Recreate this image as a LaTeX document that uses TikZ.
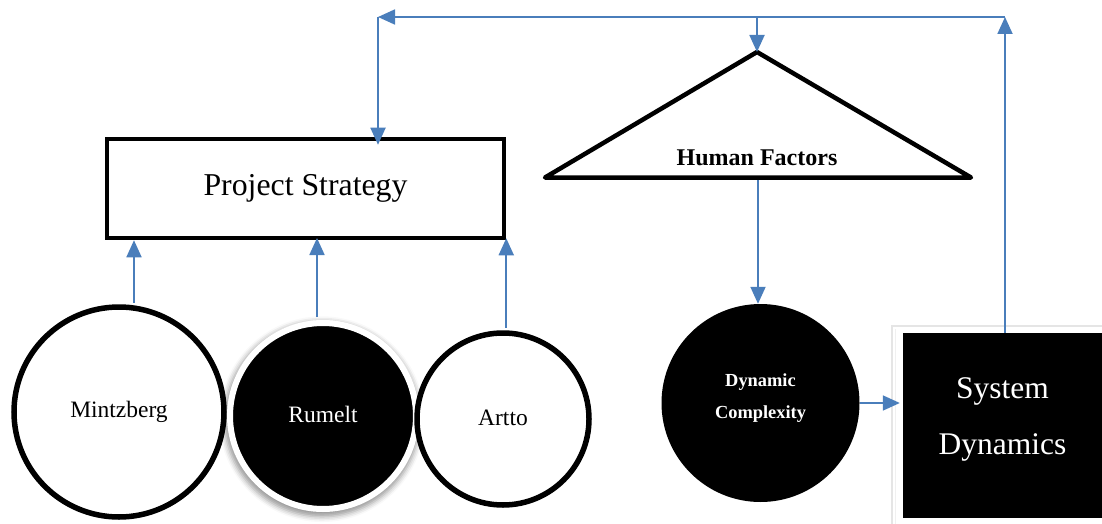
\documentclass[tikz,border=0pt]{standalone}
\usepackage{fontspec}
\setmainfont{Liberation Serif}
\usetikzlibrary{arrows.meta,calc,shadows.blur}
\definecolor{linkblue}{RGB}{74,126,187}
\begin{document}
\begin{tikzpicture}[x=1pt,y=-1pt,
  conn/.style={draw=linkblue,line width=1.8pt,-{Triangle[length=17pt,width=15pt]}},
  whitedisc/.style={circle,draw=black,line width=5.5pt,fill=white,inner sep=0pt,
    font=\fontsize{23.5}{28}\selectfont},
  blackdisc/.style={circle,draw=white,line width=6pt,fill=black,inner sep=0pt,text=white,
    font=\fontsize{23.5}{28}\selectfont,
    blur shadow={shadow xshift=-1pt,shadow yshift=-3pt,shadow blur radius=5pt,
      shadow opacity=40,shadow scale=1.05}},
  psbox/.style={rectangle,draw=black,line width=4.5pt,fill=white,inner sep=0pt,
    minimum width=397pt,minimum height=99pt,font=\fontsize{31.8}{38}\selectfont},
  dcdisc/.style={circle,fill=black,inner sep=0pt,minimum size=198pt},
  dctext/.style={text=white,align=center,font=\fontsize{18.4}{32}\selectfont\bfseries},
  sdbox/.style={rectangle,fill=black,inner sep=0pt,minimum width=199pt,minimum height=185pt},
  sdtext/.style={text=white,align=center,font=\fontsize{31.5}{56}\selectfont},
  hftext/.style={font=\fontsize{24}{28}\selectfont\bfseries}
]
\useasboundingbox (0,0) rectangle (1102,524);

% strategy box
\node[psbox] (ps) at (305.5,188.5) {Project Strategy};

% the three schools of strategy
\node[blackdisc,minimum size=186pt] (rm) at (323,416) {\raisebox{3pt}{Rumelt}};
\node[whitedisc,minimum size=210pt] (mz) at (119,412) {\raisebox{3pt}{Mintzberg}};
\node[whitedisc,minimum size=172pt] (at) at (503,419) {\raisebox{3pt}{Artto}};

% human factors triangle
\coordinate (hfA) at (757,52);
\coordinate (hfL) at (545,177.5);
\coordinate (hfR) at (971,177.5);
\coordinate (hfB) at (758,180);
\draw[line width=4.5pt,line join=round,fill=white] (hfA) -- (hfR) -- (hfL) -- cycle;
\node[hftext] (hf) at (757,158) {Human Factors};

% dynamic complexity
\node[dcdisc] (dc) at (760.5,403) {};
\node[dctext] (dclabel) at ([yshift=5pt]dc.center) {Dynamic\\Complexity};

% system dynamics block with its white frame
\draw[draw=gray!20,line width=1.5pt,fill=white] (892,326) rectangle (1110,532);
\draw[draw=gray!12,line width=1pt] (895.5,329) -- (895.5,532);
\node[sdbox] (sd) at (1002.5,425.5) {};
\node[sdtext] (sdlabel) at ([yshift=6.5pt]sd.center) {System\\Dynamics};

% feedback loop along the top
\coordinate (c1) at (1005,17);
\coordinate (c2) at (378,17);
\coordinate (c3) at (757,17);

% connectors
\draw[conn,shorten <=2.5pt] (mz.82) -- (mz.82 |- ps.south);
\draw[conn,shorten <=3pt] (rm.north -| 317,0) -- (317,238);
\draw[conn,shorten <=2.5pt,shorten >=-2pt] (at.north -| ps.south east) -- (ps.south east);
\draw[conn] (hfB) -- (dc.north -| hfB);
\draw[conn,shorten >=3pt] (dc.east) -- (dc.east -| sd.west);
\draw[conn] (sd.north -| c1) -- (c1);
\draw[conn] (c1) -- (c2);
\draw[conn,shorten >=-8pt] (c2) -- (ps.north -| c2);
\draw[conn] (c3) -- (hfA);
\end{tikzpicture}
\end{document}
